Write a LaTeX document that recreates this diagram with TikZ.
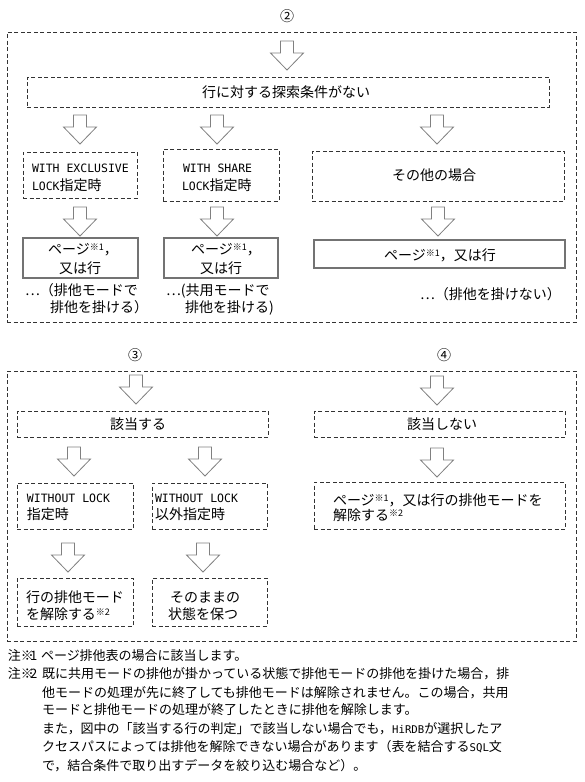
\documentclass[tikz,border=0pt]{standalone}
\usepackage{fontspec}
\setmainfont{Noto Sans CJK JP}
\newfontfamily\latfont{DejaVu Sans Mono}[Scale=0.82]
\newcommand\supn[1]{\raisebox{4pt}{\fontsize{9}{9}\selectfont ※#1}}
\newcommand\boxnode[6]{\node[#2, minimum width={#5-#3}, minimum height={#6-#4}] (#1) at ({(#3+#5)/2},{(#4+#6)/2}) {};}
\begin{document}
\begin{tikzpicture}[x=1pt,y=-1pt,
  every node/.style={font=\fontsize{14}{16}\selectfont, inner sep=0pt, outer sep=0pt},
  dbox/.style={draw=black!80, dash pattern=on 4pt off 2.5pt, line width=0.9pt, rectangle},
  sbox/.style={draw=black!55, line width=1.4pt, rectangle},
  arrowline/.style={draw=black!50, line width=0.8pt, fill=white},
  tl/.style={anchor=base west},
  tc/.style={anchor=base},
  nt/.style={anchor=base west, font=\fontsize{13}{16}\selectfont},
  downarr/.pic={\path[arrowline] (-6.5,0) -- (6.5,0) -- (6.5,12) -- (16.5,12) -- (0,29) -- (-16.5,12) -- (-6.5,12) -- cycle;}
]
\useasboundingbox[fill=white] (0,0) rectangle (584,782);

% ---------- section 2 ----------
\node[tc] (lab2) at (287,21) {②};
\boxnode{outer2}{dbox}{7}{32}{576}{322}
\pic (a0) at (287,41) {downarr};
\boxnode{cond}{dbox}{27}{77}{549}{107}
\node[tc] (tcond) at (286,97) {行に対する探索条件がない};

\pic (a1) at (80,115) {downarr};
\pic (a2) at (217,115) {downarr};
\pic (a3) at (437,115) {downarr};

\boxnode{we}{dbox}{23}{152}{137}{198}
\node[tl] (we1) at (32,172) {\latfont WITH EXCLUSIVE};
\node[tl] (we2) at (32,190) {{\latfont LOCK}指定時};
\boxnode{ws}{dbox}{163}{149}{279}{201}
\node[tl] (ws1) at (183,172) {\latfont WITH SHARE};
\node[tl] (ws2) at (182,190) {{\latfont LOCK}指定時};
\boxnode{oth}{dbox}{312}{151}{564}{201}
\node[tc] (toth) at (434,180) {その他の場合};

\pic (a4) at (80,207) {downarr};
\pic (a5) at (217,207) {downarr};
\pic (a6) at (438,207) {downarr};

\boxnode{p1}{sbox}{23}{238}{138}{278}
\node[tc] (p1a) at (83,254) {ページ\supn{1}，};
\node[tc] (p1b) at (80,273) {又は行};
\boxnode{p2}{sbox}{164}{238}{278}{278}
\node[tc] (p2a) at (226,254) {ページ\supn{1}，};
\node[tc] (p2b) at (221,273) {又は行};
\boxnode{p3}{sbox}{314}{240}{565}{268}
\node[tc] (p3a) at (440,260) {ページ\supn{1}，又は行};

\node[tl] (n1a) at (25,295) {…（排他モードで};
\node[tl] (n1b) at (50,312) {排他を掛ける）};
\node[tl] (n2a) at (166,295) {…(共用モードで};
\node[tl] (n2b) at (185,312) {排他を掛ける)};
\node[tl] (n3a) at (420,299) {…（排他を掛けない）};

% ---------- sections 3 and 4 ----------
\node[tc] (lab3) at (135,360) {③};
\node[tc] (lab4) at (444,360) {④};
\boxnode{outer3}{dbox}{7}{371}{576}{641}

\pic (b0) at (136,375) {downarr};
\boxnode{yes}{dbox}{17}{411}{268}{437}
\node[tc] (tyes) at (138,429) {該当する};
\pic (b1) at (74,447) {downarr};
\pic (b2) at (205,447) {downarr};
\boxnode{wl}{dbox}{17}{483}{133}{529}
\node[tl] (wl1) at (27,502) {\latfont WITHOUT LOCK};
\node[tl] (wl2) at (27,519) {指定時};
\boxnode{wle}{dbox}{152}{483}{267}{529}
\node[tl] (wle1) at (155,502) {\latfont WITHOUT LOCK};
\node[tl] (wle2) at (155,519) {以外指定時};
\pic (b3) at (68,543) {downarr};
\pic (b4) at (203,543) {downarr};
\boxnode{r1}{dbox}{17}{578}{133}{626}
\node[tl] (r1a) at (26,602) {行の排他モード};
\node[tl] (r1b) at (26,619) {を解除する\supn{2}};
\boxnode{r2}{dbox}{152}{578}{267}{626}
\node[tl] (r2a) at (170,602) {そのままの};
\node[tl] (r2b) at (168,619) {状態を保つ};

\pic (c0) at (437,376) {downarr};
\boxnode{no}{dbox}{314}{411}{565}{437}
\node[tc] (tno) at (442,429) {該当しない};
\pic (c1) at (437,448) {downarr};
\boxnode{rel}{dbox}{314}{482}{565}{529}
\node[tl] (rel1) at (333,505) {ページ\supn{1}，又は行の排他モードを};
\node[tl] (rel2) at (333,520) {解除する\supn{2}};

% ---------- notes ----------
\node[nt] (m1) at (8,660) {注※\kern-4pt 1};
\node[nt] (m1t) at (41,660) {ページ排他表の場合に該当します。};
\node[nt] (m2) at (8,678) {注※\kern-4pt 2};
\node[nt] (m2a) at (42,678) {既に共用モードの排他が掛かっている状態で排他モードの排他を掛けた場合，排};
\node[nt] (m2b) at (42,697) {他モードの処理が先に終了しても排他モードは解除されません。この場合，共用};
\node[nt] (m2c) at (42,714) {モードと排他モードの処理が終了したときに排他を解除します。};
\node[nt] (m2d) at (42,733) {また，図中の「該当する行の判定」で該当しない場合でも，{\latfont HiRDB}が選択したア};
\node[nt] (m2e) at (42,751) {クセスパスによっては排他を解除できない場合があります（表を結合する{\latfont SQL}文};
\node[nt] (m2f) at (42,770) {で，結合条件で取り出すデータを絞り込む場合など）。};
\end{tikzpicture}
\end{document}
